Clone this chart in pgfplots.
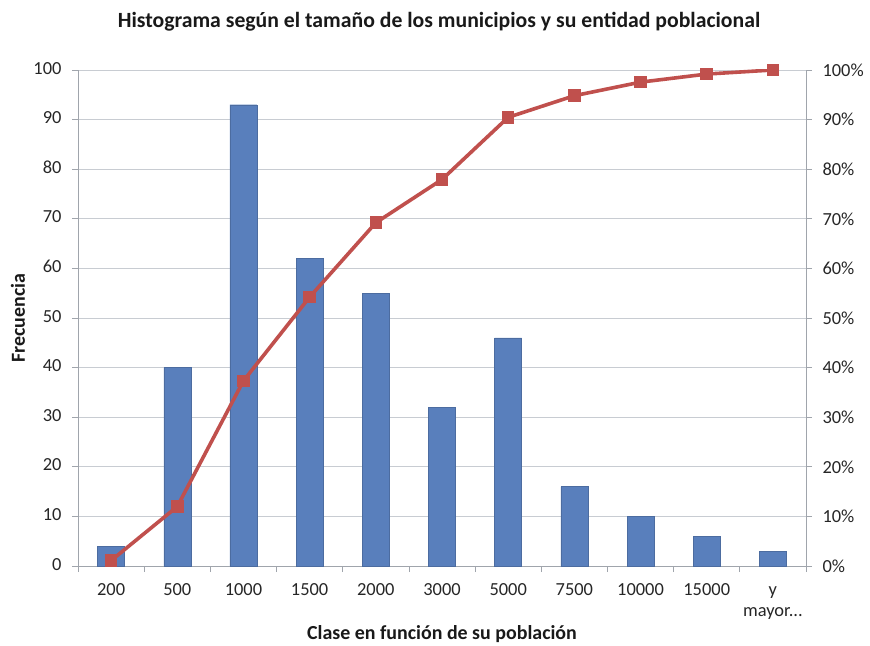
\documentclass[border=0pt]{standalone}
\usepackage{pgfplots}
\pgfplotsset{compat=1.18}
\usepackage{fontspec}
\setmainfont{Carlito}
\definecolor{barblue}{RGB}{89,127,188}
\definecolor{linered}{RGB}{192,80,77}
\definecolor{gridgray}{RGB}{200,204,210}
\definecolor{axgray}{RGB}{160,165,172}
\newcommand{\mayorlabel}{y\\mayor...}
\begin{document}
\begin{tikzpicture}
\pgfplotsset{
  common/.style={
    scale only axis, width=728bp, height=496bp,
    xmin=-0.5, xmax=10.5, ymin=0, ymax=100,
    ytick={0,10,20,30,40,50,60,70,80,90,100},
    tick align=outside,
    major tick length=6bp,
    minor tick length=6bp,
    /pgf/number format/assume math mode=true,
    ticklabel style={font=\fontsize{18.5}{21}\selectfont, text=black!85},
    axis line style={axgray, line width=0.8bp},
    every tick/.style={axgray, line width=0.8bp},
  }
}
\begin{axis}[common,
  axis y line*=left, axis x line*=bottom,
  ymajorgrids, grid style={gridgray, line width=0.8bp},
  xtick={0,1,2,3,4,5,6,7,8,9,10},
  xticklabels={200,500,1000,1500,2000,3000,5000,7500,10000,15000,\mayorlabel},
  xticklabel style={align=center, anchor=north, yshift=-5bp},
  typeset ticklabels with strut,
  major x tick style={draw=none},
  minor xtick={-0.5,0.5,1.5,2.5,3.5,4.5,5.5,6.5,7.5,8.5,9.5,10.5},
  yticklabel style={xshift=-7bp},
]
\addplot[ybar, bar width=27bp, fill=barblue, draw=barblue!85!black, line width=0.4bp]
 coordinates {(0,4) (1,40) (2,93) (3,62) (4,55) (5,32) (6,46) (7,16) (8,10) (9,6) (10,3)};
\end{axis}
\begin{axis}[common,
  axis y line*=right, axis x line=none,
  yticklabel={\pgfmathprintnumber{\tick}\%},
  yticklabel style={xshift=7bp},
]
\addplot[linered, line width=3.6bp, mark=square*, mark size=5.8bp, mark options={line width=0bp}]
 coordinates {(0,1.09) (1,11.99) (2,37.33) (3,54.22) (4,69.21) (5,77.93) (6,90.46) (7,94.82) (8,97.55) (9,99.18) (10,100)};
\end{axis}
\node[font=\bfseries\fontsize{21.8}{25}\selectfont, text=black!90] at (361bp,544bp) {Histograma según el tamaño de los municipios y su entidad poblacional};
\node[font=\bfseries\fontsize{20}{24}\selectfont, text=black!90, rotate=90] at (-60bp,248bp) {Frecuencia};
\node[font=\bfseries\fontsize{20}{24}\selectfont, text=black!90] at (364bp,-68bp) {Clase en función de su población};
\path[use as bounding box] (-78bp,-78bp) rectangle (792bp,566bp);
\end{tikzpicture}
\end{document}
